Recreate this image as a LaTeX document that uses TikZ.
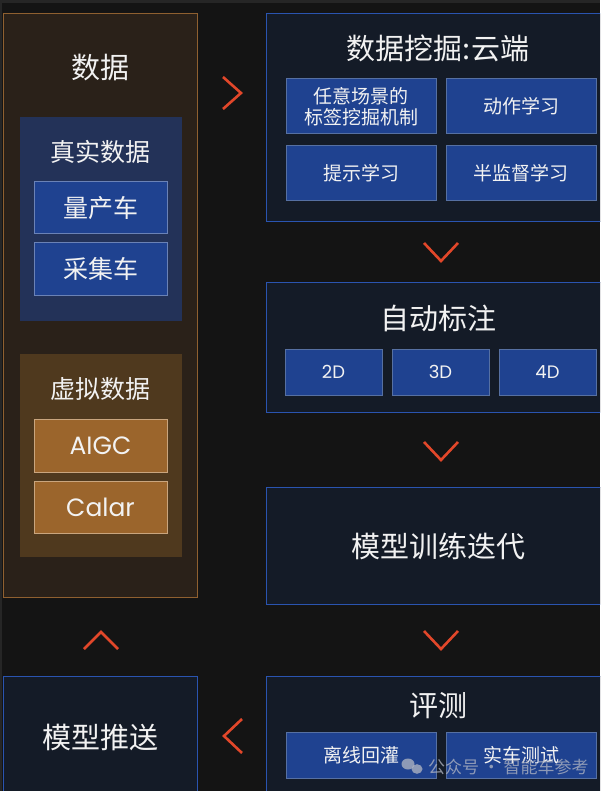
\documentclass[tikz,border=0pt]{standalone}
\usepackage{fontspec}
\setmainfont{Noto Sans CJK SC}
\newfontfamily\latinf{Poppins}
\definecolor{bgc}{HTML}{141414}
\definecolor{topc}{HTML}{262626}
\definecolor{datafill}{HTML}{2A2119}
\definecolor{dataline}{HTML}{8F6030}
\definecolor{realfill}{HTML}{233258}
\definecolor{btnblue}{HTML}{1F4290}
\definecolor{btnblueline}{HTML}{6A82B6}
\definecolor{virtfill}{HTML}{4F391E}
\definecolor{btnorange}{HTML}{9B652C}
\definecolor{btnorangeline}{HTML}{C9A57E}
\definecolor{panelfill}{HTML}{141B27}
\definecolor{panelline}{HTML}{2A54B0}
\definecolor{subline}{HTML}{5670A2}
\definecolor{chev}{HTML}{E2472A}
\definecolor{txt}{HTML}{F2F2F2}
\definecolor{wm}{HTML}{B4B8C4}
\begin{document}
\begin{tikzpicture}[x=1pt,y=-1pt,
  every node/.style={inner sep=0pt, outer sep=0pt, text=txt},
  databox/.style={draw=dataline, fill=datafill, line width=1pt},
  realbox/.style={fill=realfill},
  virtbox/.style={fill=virtfill},
  bluebtn/.style={draw=btnblueline, fill=btnblue, line width=1pt},
  orangebtn/.style={draw=btnorangeline, fill=btnorange, line width=1pt},
  panel/.style={draw=panelline, fill=panelfill, line width=1pt},
  subbtn/.style={draw=subline, fill=btnblue, line width=1pt},
  bigtitle/.style={font=\fontsize{29}{34}\selectfont},
  midtitle/.style={font=\fontsize{25}{30}\selectfont},
  subtext/.style={font=\fontsize{19}{21}\selectfont, align=center},
  latintext/.style={font=\latinf\fontsize{25}{30}\selectfont},
  dimtext/.style={font=\latinf\fontsize{18}{22}\selectfont},
  chevron/.style={draw=chev, line width=2.6pt, line join=miter}
]
\useasboundingbox (0,0) rectangle (600,791);
\clip (0,0) rectangle (600,791);
\fill[bgc] (0,0) rectangle (600,791);
\fill[topc] (0,0) rectangle (600,3);
\fill[topc] (0,0) rectangle (2,791);

% left data column
\node[databox, minimum width=194, minimum height=583] (data) at (100.5,305.5) {};
\node[bigtitle] (datat) at (100.5,68) {数据};
\node[realbox, minimum width=162, minimum height=204] (real) at (100.5,219) {};
\node[midtitle] (realt) at (100.5,152) {真实数据};
\node[bluebtn, minimum width=133, minimum height=52] (car1) at (100.5,208) {};
\node[midtitle] at (car1.center) {量产车};
\node[bluebtn, minimum width=133, minimum height=52] (car2) at (100.5,269) {};
\node[midtitle] at (car2.center) {采集车};
\node[virtbox, minimum width=162, minimum height=203] (virt) at (100.5,455.5) {};
\node[midtitle] (virtt) at (100.5,389) {虚拟数据};
\node[orangebtn, minimum width=133, minimum height=53] (aigc) at (100.5,445.5) {};
\node[latintext] at (aigc.center) {AIGC};
\node[orangebtn, minimum width=133, minimum height=52] (calar) at (100.5,507) {};
\node[latintext] at (calar.center) {Calar};

% mining panel
\node[panel, minimum width=343, minimum height=208] (mine) at (438,118) {};
\node[bigtitle] (minet) at (438,48) {数据挖掘:云端};
\node[subbtn, minimum width=150, minimum height=55] (m1) at (361,106.5) {};
\node[subtext] at (m1.center) {任意场景的\\标签挖掘机制};
\node[subbtn, minimum width=150, minimum height=55] (m2) at (521,106.5) {};
\node[subtext] at (m2.center) {动作学习};
\node[subbtn, minimum width=150, minimum height=55] (m3) at (361,173.5) {};
\node[subtext] at (m3.center) {提示学习};
\node[subbtn, minimum width=150, minimum height=55] (m4) at (521,173.5) {};
\node[subtext] at (m4.center) {半监督学习};

% auto label panel
\node[panel, minimum width=343, minimum height=130] (label) at (438,347) {};
\node[bigtitle] (labelt) at (438,318) {自动标注};
\node[subbtn, minimum width=97, minimum height=46] (d2) at (333.5,372) {};
\node[dimtext] at (d2.center) {2D};
\node[subbtn, minimum width=97, minimum height=46] (d3) at (440.5,372) {};
\node[dimtext] at (d3.center) {3D};
\node[subbtn, minimum width=97, minimum height=46] (d4) at (547.5,372) {};
\node[dimtext] at (d4.center) {4D};

% training panel
\node[panel, minimum width=343, minimum height=117] (train) at (438,545.5) {};
\node[bigtitle] at (438,546) {模型训练迭代};

% eval panel
\node[panel, minimum width=343, minimum height=124] (eval) at (438,738) {};
\node[bigtitle] (evalt) at (438,706) {评测};
\node[subbtn, minimum width=150, minimum height=46] (e1) at (361,755) {};
\node[subtext] at (e1.center) {离线回灌};
\node[subbtn, minimum width=150, minimum height=46] (e2) at (521,755) {};
\node[subtext] at (e2.center) {实车测试};

% push panel
\node[panel, minimum width=194, minimum height=124] (push) at (100.5,738) {};
\node[bigtitle] at (100.5,737) {模型推送};

% chevrons
\draw[chevron] (223,77) -- (241,93) -- (223,109);
\draw[chevron] (424,243) -- (441,261) -- (458,243);
\draw[chevron] (424,442) -- (441,460) -- (458,442);
\draw[chevron] (424,631) -- (441,649) -- (458,631);
\draw[chevron] (84,649) -- (101,632) -- (118,649);
\draw[chevron] (242,719) -- (224,736) -- (242,753);

% watermark
\begin{scope}[opacity=0.75]
\fill[wm] (408,764) ellipse (6.5 and 5.5);
\fill[wm] (417,769) ellipse (5.5 and 4.8);
\node[font=\fontsize{17}{20}\selectfont, text=wm, anchor=west] (wmk) at (428,767) {公众号 · 智能车参考};
\end{scope}
\end{tikzpicture}
\end{document}
